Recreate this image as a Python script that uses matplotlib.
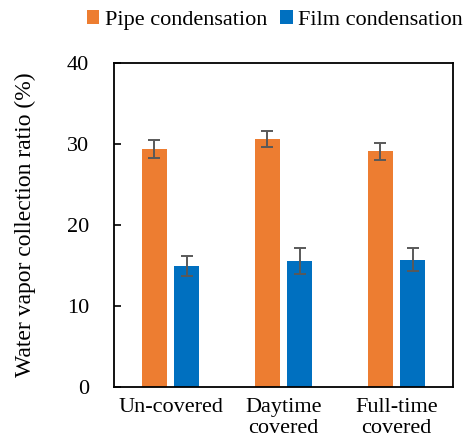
import numpy as np
import matplotlib
matplotlib.use("Agg")
import matplotlib.pyplot as plt

categories = ["Un-covered", "Daytime\ncovered", "Full-time\ncovered"]
pipe = [29.4, 30.6, 29.1]
pipe_err = [1.1, 1.0, 1.05]
film = [14.9, 15.5, 15.7]
film_err = [1.25, 1.6, 1.4]

plt.rcParams["font.family"] = ["Liberation Serif", "DejaVu Serif"]
plt.rcParams["font.size"] = 16

fig = plt.figure(figsize=(4.67, 4.41), dpi=100)
ax = fig.add_axes([114/467, 1-387/441, 339/467, 324/441])

x = np.arange(len(categories))
w = 0.22
off = 0.142
err_kw = dict(ecolor="#595959", elinewidth=1.4, capsize=4, capthick=1.4)
ax.bar(x - off, pipe, w, yerr=pipe_err, color="#ED7D31", label="Pipe condensation", error_kw=err_kw)
ax.bar(x + off, film, w, yerr=film_err, color="#0070C0", label="Film condensation", error_kw=err_kw)

ax.set_xlim(-0.5, 2.5)
ax.set_ylim(0, 40)
ax.set_yticks([0, 10, 20, 30, 40])
ax.set_xticks(x)
ax.set_xticklabels(categories, linespacing=1.15)
ax.tick_params(axis="y", direction="in", length=5, width=1.2, pad=18)
ax.tick_params(axis="x", length=0, pad=8)
for s in ax.spines.values():
    s.set_linewidth(1.3)
ax.set_ylabel("Water vapor collection ratio (%)", fontsize=17, labelpad=22)

fig.legend(loc="center", bbox_to_anchor=(275/467, 1-20/441), ncol=2, frameon=False,
           handlelength=0.55, handleheight=0.55, handletextpad=0.25, columnspacing=0.6,
           borderaxespad=0)

fig.savefig("out.png", dpi=100)
plt.close()
